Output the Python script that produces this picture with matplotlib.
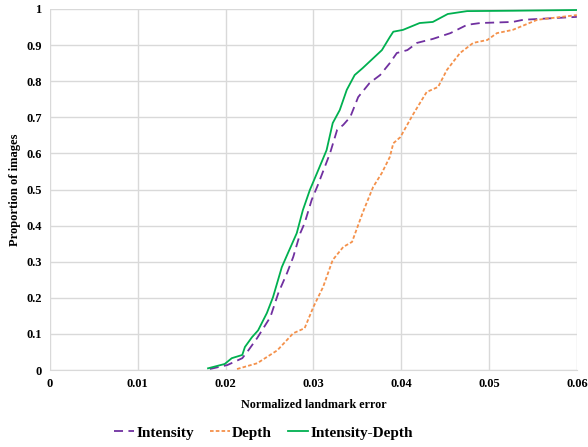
import matplotlib.pyplot as plt

plt.rcParams['font.family'] = 'Liberation Serif'
plt.rcParams['font.weight'] = 'bold'

# curve points
int_x = [0.0182, 0.0202, 0.0219, 0.0226, 0.0236, 0.0251, 0.0260, 0.0270, 0.0277, 0.0285,
         0.0290, 0.0298, 0.0305, 0.0319, 0.0327, 0.0334, 0.0342, 0.0351, 0.0364, 0.0376,
         0.0387, 0.0395, 0.0407, 0.0418, 0.0436, 0.0456, 0.0475, 0.0490, 0.0527, 0.0539, 0.0600]
int_y = [0.003, 0.014, 0.033, 0.055, 0.089, 0.147, 0.213, 0.269, 0.313, 0.379,
         0.407, 0.471, 0.512, 0.601, 0.665, 0.679, 0.701, 0.756, 0.795, 0.817,
         0.850, 0.878, 0.886, 0.906, 0.917, 0.933, 0.956, 0.961, 0.964, 0.970, 0.978]

dep_x = [0.0213, 0.0236, 0.0259, 0.0277, 0.0290, 0.0300, 0.0311, 0.0322, 0.0334, 0.0344,
         0.0356, 0.0368, 0.0378, 0.0387, 0.0391, 0.0399, 0.0413, 0.0429, 0.0442, 0.0452,
         0.0467, 0.0482, 0.0498, 0.0509, 0.0527, 0.0555, 0.0600]
dep_y = [0.003, 0.019, 0.055, 0.102, 0.116, 0.175, 0.230, 0.305, 0.341, 0.355,
         0.435, 0.507, 0.546, 0.590, 0.628, 0.645, 0.706, 0.770, 0.784, 0.831,
         0.878, 0.906, 0.914, 0.933, 0.942, 0.970, 0.983]

id_x = [0.0180, 0.0199, 0.0207, 0.0219, 0.0222, 0.0230, 0.0237, 0.0247, 0.0254, 0.0264,
        0.0271, 0.0281, 0.0288, 0.0296, 0.0304, 0.0315, 0.0322, 0.0330, 0.0338, 0.0347,
        0.0356, 0.0378, 0.0387, 0.0391, 0.0402, 0.0421, 0.0436, 0.0453, 0.0475, 0.0527, 0.0600]
id_y = [0.005, 0.017, 0.033, 0.042, 0.064, 0.091, 0.110, 0.158, 0.202, 0.285,
        0.324, 0.379, 0.443, 0.499, 0.545, 0.609, 0.684, 0.720, 0.776, 0.817,
        0.836, 0.886, 0.922, 0.937, 0.942, 0.961, 0.964, 0.986, 0.994, 0.995, 0.997]

fig = plt.figure(figsize=(5.88, 4.47), dpi=100)
ax = fig.add_axes([0.085, 0.172, 0.896, 0.808])

ax.plot(int_x, int_y, color='#7030A0', lw=1.3, dashes=(5, 3), label='Intensity')
ax.plot(dep_x, dep_y, color='#F4914B', lw=1.3, dashes=(2, 1.2), label='Depth')
ax.plot(id_x, id_y, color='#00B050', lw=1.3, label='Intensity-Depth')

ax.set_xlim(0, 0.06)
ax.set_ylim(0, 1)
ax.set_xticks([0, 0.01, 0.02, 0.03, 0.04, 0.05, 0.06])
ax.set_xticklabels(['0', '0.01', '0.02', '0.03', '0.04', '0.05', '0.06'])
ax.set_yticks([i / 10 for i in range(11)])
ax.set_yticklabels(['0', '0.1', '0.2', '0.3', '0.4', '0.5', '0.6', '0.7', '0.8', '0.9', '1'])
ax.tick_params(length=0, labelsize=9, pad=6)
ax.grid(color='#D9D9D9', lw=1)
ax.set_axisbelow(True)
for s in ['top', 'right', 'left']:
    ax.spines[s].set_visible(False)
ax.spines['bottom'].set_color('#D9D9D9')

ax.set_xlabel('Normalized landmark error', fontsize=8.7, fontweight='bold', labelpad=6)
ax.set_ylabel('Proportion of images', fontsize=9, fontweight='bold', labelpad=4)

fig.legend(loc='center', bbox_to_anchor=(0.448, 0.032), ncol=3, frameon=False,
           prop={'size': 11, 'weight': 'bold'}, handlelength=1.3, handletextpad=0.15,
           columnspacing=1.05)

fig.savefig('out.png', dpi=100)
